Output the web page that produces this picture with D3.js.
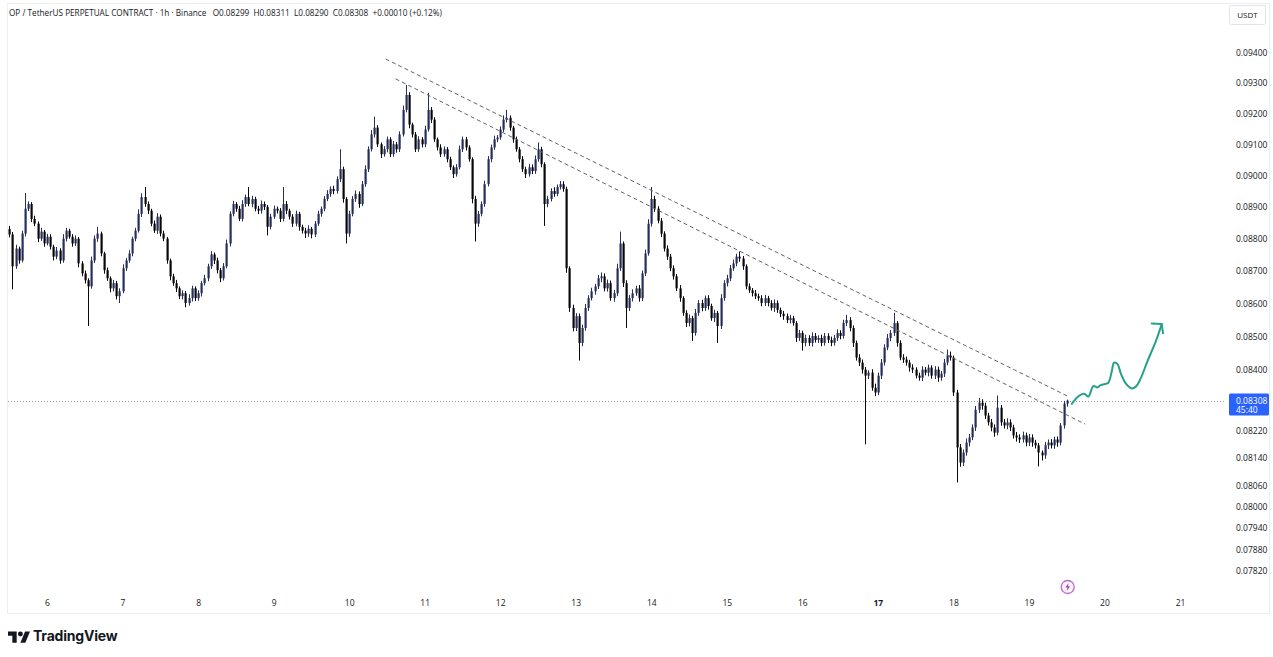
<!DOCTYPE html>
<html><head><meta charset="utf-8">
<script src="https://cdn.jsdelivr.net/npm/d3@7"></script>
<style>
html,body{margin:0;padding:0;background:#fff;}
svg{display:block;font-family:"Open Sans","Noto Sans","DejaVu Sans",sans-serif;}
</style></head><body>
<svg id="c" width="1273" height="657"></svg>
<script>
// ---------- DATA (prices in units of 0.00001 USDT, hourly candles) ----------
const startDay = 5.5;          // first candle: day 5, 12:00
const hoursPerDay = 24;
const firstOpen = 8830;
const closes = [
8813,8714,8769,8732,8816,8894,8909,8862,8847,8800,
8822,8785,8806,8775,8744,8763,8732,8800,8825,8806,
8785,8800,8723,8692,8671,8652,8732,8800,8816,8754,
8702,8677,8646,8662,8622,8637,8708,8732,8754,8800,
8825,8878,8931,8909,8888,8847,8825,8869,8816,8800,
8732,8683,8662,8646,8622,8631,8601,8616,8646,8616,
8631,8662,8677,8714,8751,8732,8702,8677,8714,8785,
8878,8909,8894,8862,8909,8931,8909,8925,8894,8888,
8909,8900,8837,8869,8894,8888,8862,8909,8888,8869,
8847,8878,8837,8825,8816,8831,8813,8847,8878,8894,
8925,8941,8957,8950,8988,9020,8925,8816,8878,8925,
8941,8909,8972,9020,9084,9132,9154,9100,9068,9084,
9116,9068,9100,9084,9132,9212,9261,9164,9132,9084,
9116,9100,9148,9212,9180,9116,9090,9068,9084,9052,
9026,9004,9026,9084,9116,9090,9052,8925,8847,8878,
8909,8972,9052,9090,9116,9122,9148,9180,9186,9154,
9116,9084,9052,9020,9004,9026,9014,9052,9084,9036,
8909,8925,8950,8941,8963,8972,8957,8708,8586,8525,
8561,8480,8525,8586,8616,8637,8652,8677,8683,8646,
8662,8616,8631,8708,8785,8662,8586,8616,8631,8646,
8616,8692,8754,8847,8925,8894,8856,8816,8769,8744,
8708,8683,8646,8616,8571,8540,8555,8510,8571,8601,
8586,8616,8592,8555,8571,8531,8616,8662,8677,8708,
8723,8744,8738,8714,8652,8640,8631,8622,8616,8601,
8616,8601,8586,8601,8580,8568,8561,8549,8555,8540,
8495,8510,8480,8495,8480,8501,8489,8495,8480,8501,
8489,8480,8495,8510,8501,8540,8549,8525,8480,8436,
8421,8400,8382,8391,8346,8332,8382,8421,8466,8495,
8510,8540,8480,8436,8430,8421,8406,8400,8382,8376,
8400,8391,8406,8382,8400,8376,8388,8421,8442,8436,
8332,8171,8127,8156,8185,8200,8229,8281,8302,8293,
8264,8244,8229,8214,8287,8244,8235,8244,8229,8206,
8200,8194,8206,8185,8200,8185,8177,8156,8148,8177,
8185,8177,8194,8185,8235,8299,8308];
const upperWicks = [
10,8,12,6,9,50,8,6,10,7, 12,5,9,8,6,11,7,14,9,6, 8,10,5,7,9,6,12,10,21,6,
5,8,6,10,7,9,12,8,10,6, 9,14,12,32,8,6,10,11,7,9, 5,6,8,10,6,9,7,12,8,6,
9,7,11,8,10,6,9,7,10,12, 8,10,6,9,12,8,32,10,7,9, 11,8,6,9,10,7,8,54,9,6,
8,10,6,7,9,11,6,8,10,7, 9,12,8,10,9,64,8,6,10,9, 11,8,10,12,9,14,36,8,6,10,
9,7,11,8,10,14,33,9,6,8, 10,7,12,56,9,8,6,10,9,7, 8,6,10,12,9,8,7,6,10,9,
8,11,10,9,12,8,10,14,26,8, 6,9,7,10,8,11,9,12,22,8, 6,10,9,12,8,10,9,7,6,10,
9,8,10,12,9,11,8,10,12,9, 11,8,10,14,37,6,9,10,12,8, 10,9,12,14,38,10,8,9,7,10,
8,9,7,10,6,8,11,7,12,9, 10,8,9,7,10,6,12,9,11,10, 12,9,16,8,6,9,7,10,8,9,
10,7,9,11,8,7,9,8,10,7, 6,9,7,10,8,11,9,8,10,9, 8,10,9,11,8,10,16,9,8,7,
10,9,8,7,10,12,9,11,10,12, 9,31,6,8,10,9,8,10,7,9, 10,8,9,7,10,9,8,11,18,12,
6,8,10,9,12,10,9,11,14,10, 9,8,10,9,36,8,10,12,9,8, 10,9,11,8,10,9,8,7,6,10,
9,10,8,9,7,8,3];
const lowerWicks = [
9,71,8,10,6,9,7,10,8,11, 7,10,6,9,12,8,10,7,9,6, 10,8,12,9,10,121,7,8,10,9,
11,8,12,9,10,21,6,8,7,9, 8,6,10,9,11,8,7,10,9,8, 10,12,8,11,9,10,13,8,10,9,
8,10,7,9,8,11,10,12,7,6, 9,8,10,7,8,9,7,10,8,11, 9,10,27,8,7,9,10,8,11,9,
10,8,12,9,14,10,12,8,7,9, 8,7,9,10,8,9,12,31,10,8, 9,12,7,8,9,7,10,9,12,8,
10,9,8,11,9,7,8,12,10,9, 8,10,9,7,11,8,10,9,8,10, 9,12,8,7,9,10,8,14,56,10,
8,9,7,10,8,9,7,8,9,10, 11,8,10,9,12,8,10,9,8,10, 69,10,8,9,7,8,9,14,12,10,
9,53,10,8,9,7,10,8,12,9, 10,8,11,9,8,12,61,9,10,8, 11,9,8,7,9,10,8,11,9,10,
9,10,8,11,9,12,10,24,8,9, 10,9,11,8,12,51,9,8,10,9, 8,9,10,11,9,8,10,9,8,10,
9,10,8,12,9,10,11,9,10,8, 12,9,23,10,9,11,8,9,10,8, 9,10,8,9,10,8,9,10,12,9,
10,12,202,10,9,11,8,10,9,8, 10,9,11,8,10,9,12,10,8,9, 10,8,11,9,10,12,9,10,8,9,
10,101,12,10,9,11,8,10,9,12, 10,9,11,12,8,10,9,11,10,9, 12,10,9,11,10,12,9,40,15,10,
11,9,10,12,8,9,9];

const dayTicks = [6,7,8,9,10,11,12,13,14,15,16,17,18,19,20,21];
const boldDays = [17];
const priceTicks = [0.094,0.093,0.092,0.091,0.090,0.089,0.088,0.087,0.086,0.085,0.084,
                    0.0822,0.0814,0.0806,0.0800,0.0794,0.0788,0.0782];
const lastPrice = 0.08308;
const countdown = "45:40";
const currencyLabel = "USDT";
const legendTitle = "OP / TetherUS PERPETUAL CONTRACT · 1h · Binance";
const legendValues = "O0.08299  H0.08311  L0.08290  C0.08308  +0.00010 (+0.12%)";
// drawings in (day, price)
const trendUpper = [[10.484,0.09380],[19.532,0.08319]];
const trendLower = [[10.616,0.09314],[19.743,0.08239]];
const forecastPath = [[19.568,0.08298],[19.641,0.08318],[19.730,0.08328],[19.787,0.08320],
  [19.853,0.08351],[19.906,0.08347],[19.951,0.08354],[20.008,0.08357],[20.051,0.08361],
  [20.096,0.08394],[20.127,0.08421],[20.171,0.08417],[20.216,0.08389],[20.282,0.08359],
  [20.361,0.08344],[20.414,0.08349],[20.480,0.08374],[20.567,0.08424],[20.678,0.08484],
  [20.758,0.08537]];
const arrowHead = [[20.625,0.08539],[20.758,0.08537],[20.775,0.08509]];

// ---------- CHART ----------
const svg = d3.select("#c");
const W = 1273, H = 657;
const plotL = 8, plotR = 1226, plotT = 4, plotB = 613;
const x = d3.scaleLinear().domain([6,21]).range([47,1180]);
const y = d3.scaleLog().domain([0.0782,0.094]).range([571,53]);

const candles = closes.map((c,i)=>{
  const o = i===0 ? firstOpen : closes[i-1];
  return {t: startDay + i/hoursPerDay, o:o/1e5, c:c/1e5,
          h:(Math.max(o,c)+upperWicks[i])/1e5, l:(Math.min(o,c)-lowerWicks[i])/1e5};
});

svg.append("rect").attr("width",W).attr("height",H).attr("fill","#fff");
svg.append("defs").append("clipPath").attr("id","plot")
  .append("rect").attr("x",plotL).attr("y",plotT).attr("width",plotR-plotL).attr("height",plotB-plotT);

// frame
svg.append("rect").attr("x",7.5).attr("y",3.5).attr("width",1262).attr("height",610)
  .attr("fill","none").attr("stroke","#eceef2").attr("stroke-width",1);

const g = svg.append("g").attr("clip-path","url(#plot)");

// price line
g.append("line").attr("x1",plotL).attr("x2",1228)
  .attr("y1",Math.round(y(lastPrice))+0.5).attr("y2",Math.round(y(lastPrice))+0.5)
  .attr("stroke","#9598a1").attr("stroke-width",1).attr("stroke-dasharray","1,2");

// candles
const upCol = "#252e5c", dnCol = "#08080c";
const cg = g.append("g");
cg.selectAll("line.w").data(candles).join("line").attr("class","w")
  .attr("x1",d=>Math.round(x(d.t))+0.5).attr("x2",d=>Math.round(x(d.t))+0.5)
  .attr("y1",d=>y(d.h)).attr("y2",d=>y(d.l))
  .attr("stroke",d=>d.c>=d.o?upCol:dnCol).attr("stroke-width",1);
cg.selectAll("rect.b").data(candles).join("rect").attr("class","b")
  .attr("x",d=>Math.round(x(d.t))-0.5).attr("width",2.2)
  .attr("y",d=>y(Math.max(d.o,d.c)))
  .attr("height",d=>Math.max(1,y(Math.min(d.o,d.c))-y(Math.max(d.o,d.c))))
  .attr("fill",d=>d.c>=d.o?upCol:dnCol);

// trend lines
const lineGen = d3.line().x(d=>x(d[0])).y(d=>y(d[1]));
[trendUpper,trendLower].forEach(tl=>{
  g.append("path").attr("d",lineGen(tl)).attr("fill","none")
   .attr("stroke","#5f626c").attr("stroke-width",1).attr("stroke-dasharray","4,3");
});

// forecast arrow
const green = "#26a08b";
g.append("path").attr("d",d3.line().x(d=>x(d[0])).y(d=>y(d[1])).curve(d3.curveCatmullRom)(forecastPath))
  .attr("fill","none").attr("stroke",green).attr("stroke-width",2).attr("stroke-linecap","round");
g.append("path").attr("d",lineGen(arrowHead)).attr("fill","none")
  .attr("stroke",green).attr("stroke-width",2).attr("stroke-linecap","round").attr("stroke-linejoin","round");

// price axis
const ya = svg.append("g").attr("transform","translate(1236,0)")
  .call(d3.axisRight(y).tickValues(priceTicks).tickSize(0).tickPadding(0).tickFormat(d=>d.toFixed(5)));
ya.select(".domain").remove();
ya.selectAll("text").attr("font-size","8.5px").attr("fill","#131722")
  .attr("font-family","'Open Sans','Noto Sans',sans-serif");

// last price label
const ly = y(lastPrice);
svg.append("rect").attr("x",1229).attr("y",ly-7).attr("width",40).attr("height",22)
  .attr("rx",1.5).attr("fill","#2962ff");
svg.append("text").attr("x",1236).attr("y",ly).attr("dy","0.35em").attr("font-size","8.5px")
  .attr("fill","#fff").text(lastPrice.toFixed(5));
svg.append("text").attr("x",1236).attr("y",ly+9).attr("dy","0.35em").attr("font-size","8.5px")
  .attr("fill","#fff").text(countdown);

// currency box
svg.append("rect").attr("x",1229.5).attr("y",5.5).attr("width",36).attr("height",19).attr("rx",2)
  .attr("fill","#fff").attr("stroke","#e0e3eb");
svg.append("text").attr("x",1247.5).attr("y",15).attr("dy","0.35em").attr("text-anchor","middle")
  .attr("font-size","8px").attr("fill","#131722").text(currencyLabel);

// time axis
const xa = svg.append("g").attr("transform","translate(0,600)")
  .call(d3.axisBottom(x).tickValues(dayTicks).tickSize(0).tickPadding(0).tickFormat(d3.format("d")));
xa.select(".domain").remove();
xa.selectAll("text").attr("font-size","8.5px").attr("fill","#131722")
  .attr("font-weight",d=>boldDays.includes(d)?"700":"400")
  .attr("font-family","'Open Sans','Noto Sans',sans-serif");

// legend
svg.append("text").attr("x",9).attr("y",13).attr("dy","0.35em").attr("font-size","8.2px")
  .attr("fill","#131722").attr("xml:space","preserve")
  .text(legendTitle + "   " + legendValues);

// lightning icon
const ix = x(startDay + (closes.length-1)/hoursPerDay) + 1, iy = 587;
svg.append("circle").attr("cx",ix).attr("cy",iy).attr("r",6.5).attr("fill","#fbf3fc")
  .attr("stroke","#b76ac9").attr("stroke-width",1.3);
svg.append("path").attr("transform",`translate(${ix},${iy})`)
  .attr("d","M0.8,-4 L-2.2,0.6 L-0.2,0.6 L-0.8,4 L2.2,-0.8 L0.2,-0.8 Z").attr("fill","#9c3fb3");

// TradingView logo
const lg = svg.append("g").attr("transform","translate(8,629) scale(0.62)");
lg.append("path").attr("d","M14 22H7V11H0V4h14v18zM28 22h-8l7.5-18h8L28 22z").attr("fill","#131722");
lg.append("circle").attr("cx",20).attr("cy",8).attr("r",4).attr("fill","#131722");
svg.append("text").attr("x",33).attr("y",636).attr("dy","0.35em").attr("font-size","14px")
  .attr("font-weight","700").attr("fill","#131722").attr("font-family","Inter,'Open Sans',sans-serif")
  .attr("letter-spacing","-0.2").text("TradingView");
</script>
</body></html>
